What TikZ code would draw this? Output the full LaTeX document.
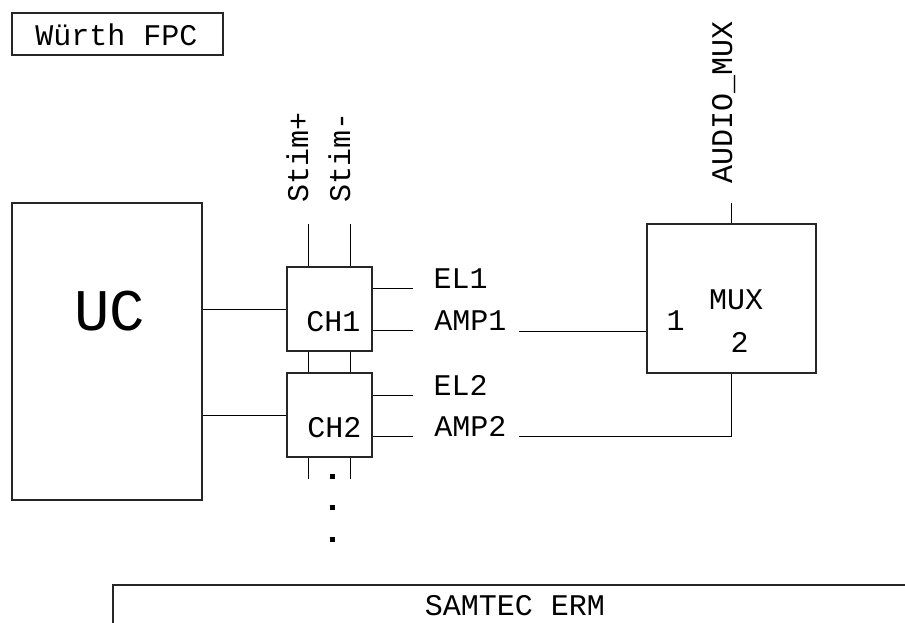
\documentclass[tikz,border=0pt]{standalone}
\usepackage{fontspec}
\setmainfont{Liberation Mono}
\begin{document}
\begin{tikzpicture}[x=1pt,y=-1pt,line width=1pt,
  box/.style={draw=black!85,line width=1.2pt,rectangle,inner sep=0pt},
  lbl/.style={inner sep=0pt,font=\fontsize{30}{36}\selectfont},
  big/.style={inner sep=0pt,font=\fontsize{59}{66}\selectfont},
  wire/.style={draw=black,line width=1pt}]
\useasboundingbox (0,0) rectangle (905,623);
% boxes
\node[box,minimum width=211pt,minimum height=42pt] (fpc) at (117.5,34) {};
\node[box,minimum width=190pt,minimum height=297pt] (uc) at (107,351.5) {};
\node[box,minimum width=85pt,minimum height=84pt] (ch1) at (329.5,309) {};
\node[box,minimum width=85pt,minimum height=84pt] (ch2) at (329.5,415) {};
\node[box,minimum width=169pt,minimum height=149pt] (mux) at (731.5,298.5) {};
% texts
\node[lbl,anchor=base] (tfpc) at (116.5,46) {Würth FPC};
\node[big,anchor=base] (tuc) at (109.5,330) {UC};
\node[lbl,anchor=base] (tch1) at (333.5,331) {CH1};
\node[lbl,anchor=base] (tch2) at (334.5,437) {CH2};
\node[lbl,anchor=base] (tmux) at (736,309) {MUX};
\node[lbl,anchor=base] (tm1) at (675.5,330) {1};
\node[lbl,anchor=base] (tm2) at (739.5,352) {2};
\node[lbl,anchor=base] (tel1) at (460.5,288) {EL1};
\node[lbl,anchor=base] (tamp1) at (470.5,330) {AMP1};
\node[lbl,anchor=base] (tel2) at (460.5,395) {EL2};
\node[lbl,anchor=base] (tamp2) at (470.5,436) {AMP2};
\node[lbl,anchor=base west,rotate=90] (tsp) at (308,203) {Stim+};
\node[lbl,anchor=base west,rotate=90] (tsm) at (350,203) {Stim-};
\node[lbl,anchor=base west,rotate=90] (taud) at (732,184) {AUDIO\_MUX};
\node[lbl,anchor=base] (term) at (515,615) {SAMTEC ERM};
% coordinates
\coordinate (s1) at (308,224);
\coordinate (s2) at (350,224);
\coordinate (el1e) at (413,288);
\coordinate (amp1e) at (413,330);
\coordinate (el2e) at (413,395);
\coordinate (amp2e) at (413,436);
\coordinate (amp1w) at (519,331);
\coordinate (amp2w) at (519,436);
% connectors
\draw[wire] (ch1.west) -- (ch1.west -| uc.east);
\draw[wire] (ch2.west) -- (ch2.west -| uc.east);
\draw[wire] (s1) -- (s1 |- ch1.north);
\draw[wire] (s2) -- (s2 |- ch1.north);
\draw[wire] (s1 |- ch1.south) -- (s1 |- ch2.north);
\draw[wire] (s2 |- ch1.south) -- (s2 |- ch2.north);
\draw[wire] (s1 |- ch2.south) -- ++(0,21);
\draw[wire] (s2 |- ch2.south) -- ++(0,21);
\draw[wire] (el1e -| ch1.east) -- (el1e);
\draw[wire] (amp1e -| ch1.east) -- (amp1e);
\draw[wire] (el2e -| ch2.east) -- (el2e);
\draw[wire] (amp2e -| ch2.east) -- (amp2e);
\draw[wire] (amp1w) -- (amp1w -| mux.west);
\draw[wire] (amp2w) -- (amp2w -| mux.south) -- (mux.south);
\draw[wire] (mux.north) -- ++(0,-20);
% connector strip
\draw[box] (905,585) -- (113,585) -- (113,623);
% dots
\foreach \yy in {476,507,539} \fill (330,\yy-2) rectangle ++(4.5,4.5);
\end{tikzpicture}
\end{document}
